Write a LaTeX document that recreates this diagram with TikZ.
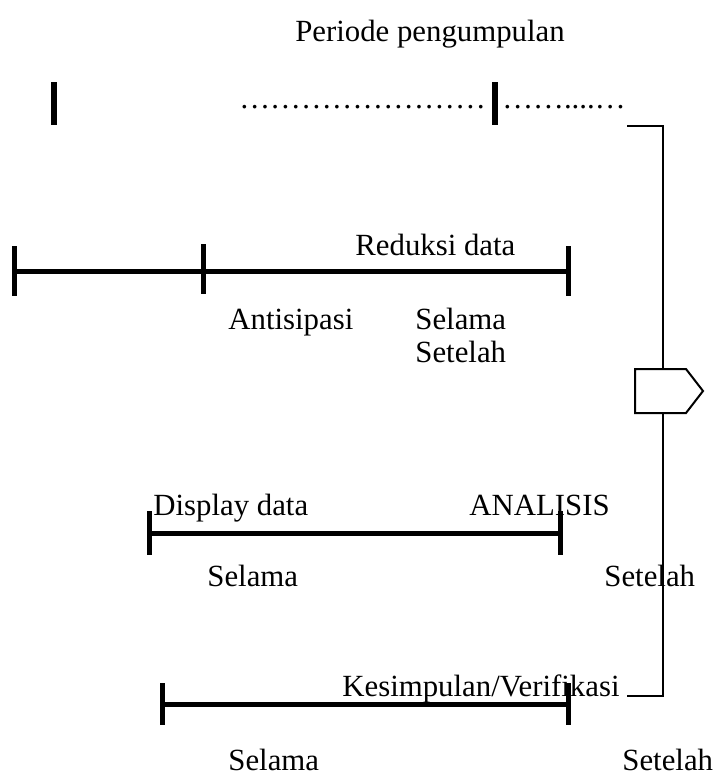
\documentclass[tikz,border=0pt]{standalone}
\usepackage{fontspec}
\setmainfont{Liberation Serif}

\tikzset{
  teks/.style={inner sep=0pt, anchor=base west, font=\fontsize{15.4}{17}\selectfont},
  batang/.style={line width=2.5pt},
  tanda/.style={line width=2.7pt},
  garis/.style={line width=0.75pt}
}

\begin{document}
\begin{tikzpicture}[x=0.5pt,y=-0.5pt]
\useasboundingbox (0,0) rectangle (716,776);

%Judul dan garis titik-titik di atas
\node[teks, anchor=base] (judul) at (430,41) {Periode pengumpulan};
\draw[tanda] (54,82) -- (54,125);
\node[teks] (titikA) at (239,108) {……………………};
\draw[tanda] (495,82) -- (495,125);
\node[teks] (titikB) at (502,108) {……....…};

%Reduksi data
\coordinate (R1) at (14,271);
\coordinate (R2) at (203,269);
\coordinate (R3) at (568,271);
\draw[batang] (R1) -- (R3);
\foreach \t in {R1,R2,R3} \draw[batang] (\t) ++(0,-25) -- ++(0,50);
\node[teks] (reduksi) at (355,255) {Reduksi data};
\node[teks] (antisipasi) at (228,329) {Antisipasi};
\node[teks] (selamaR) at (415,329) {Selama};
\node[teks] (setelahR) at (415,362) {Setelah};

%Display data
\coordinate (D1) at (149,533);
\coordinate (D2) at (560,533);
\draw[batang] (D1) -- (D2);
\foreach \t in {D1,D2} \draw[batang] (\t) ++(0,-22) -- ++(0,44);
\node[teks] (display) at (153,515) {Display data};
\node[teks] (analisis) at (469,515) {ANALISIS};
\node[teks] (selamaD) at (207,586) {Selama};
\node[teks] (setelahD) at (604,586) {Setelah};

%Kesimpulan/Verifikasi
\coordinate (K1) at (162,704);
\coordinate (K2) at (568,704);
\draw[batang] (K1) -- (K2);
\foreach \t in {K1,K2} \draw[batang] (\t) ++(0,-21) -- ++(0,42);
\node[teks] (kesimpulan) at (342,696) {Kesimpulan/Verifikasi};
\node[teks] (selamaK) at (228,770) {Selama};
\node[teks] (setelahK) at (622,770) {Setelah};

%Kurung di kanan dengan tanda panah segilima
\coordinate (atas) at (627,126);
\coordinate (bawah) at (627,696);
\draw[garis] (atas) -- ++(36,0) |- (bawah);
\draw[garis, line width=1pt, fill=white] (635,369) -- (686,369) -- (703,391) -- (686,413) -- (635,413) -- cycle;
\end{tikzpicture}
\end{document}
